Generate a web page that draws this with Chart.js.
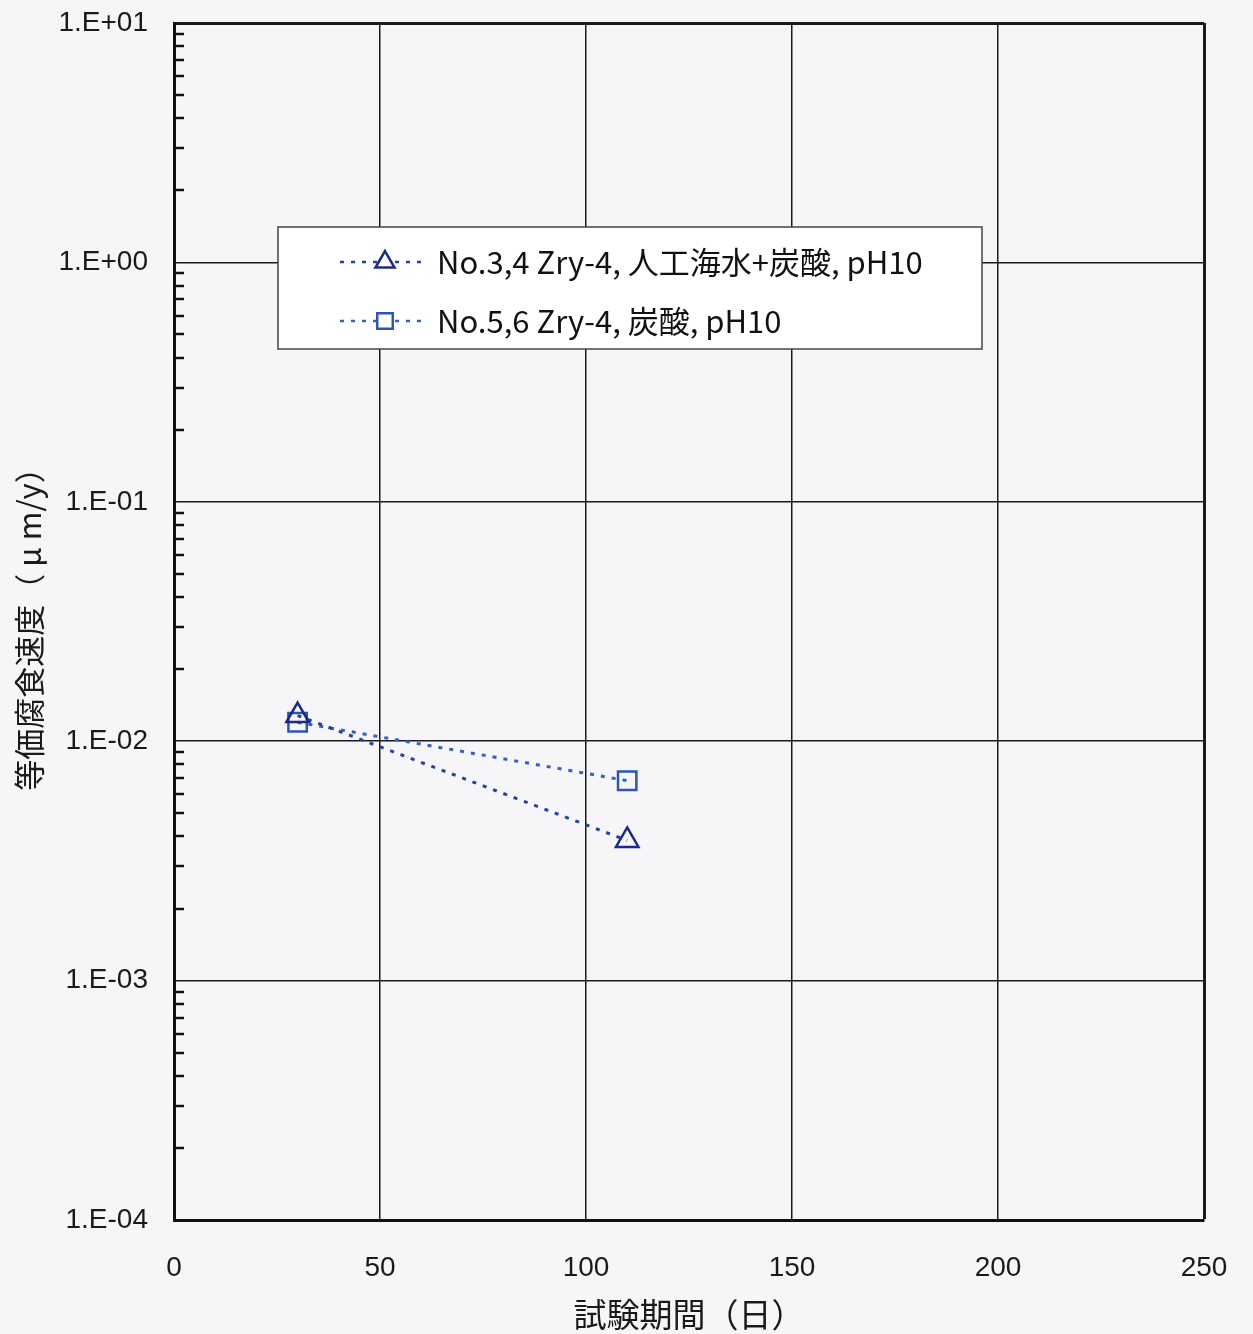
<!DOCTYPE html>
<html>
<head>
<meta charset="utf-8">
<script src="https://cdn.jsdelivr.net/npm/chart.js@4.4.1/dist/chart.umd.min.js"></script>
<style>
  html, body { margin: 0; padding: 0; background: #f6f6f8; }
  #wrap { width: 1253px; height: 1334px; position: relative; }
</style>
</head>
<body>
<div id="wrap"><canvas id="c" width="1253" height="1334"></canvas></div>
<script>
// Test duration (days) and equivalent corrosion rate (µm/y) for each test group
const days = [30, 110];
const rateSeawater = [0.0128, 0.00385];   // No.3,4: artificial seawater + carbonate
const rateCarbonate = [0.0120, 0.00684];  // No.5,6: carbonate only
const seriesLabels = ['No.3,4 Zry-4, 人工海水+炭酸, pH10', 'No.5,6 Zry-4, 炭酸, pH10'];

const xTickValues = [0, 50, 100, 150, 200, 250];
const yDecades = [1e-4, 1e-3, 1e-2, 1e-1, 1, 10];
const yTickLabels = ['1.E-04', '1.E-03', '1.E-02', '1.E-01', '1.E+00', '1.E+01'];
const xTitle = '試験期間（日）';
const yTitle = '等価腐食速度（ μ m/y）';

// decade ticks plus the 2..9 minor marks inside each decade
const yTickValues = [];
yDecades.forEach((d, i) => {
  yTickValues.push(d);
  if (i < yDecades.length - 1) for (let k = 2; k <= 9; k++) yTickValues.push(+(k * d).toPrecision(3));
});
const isDecade = v => yDecades.some(d => Math.abs(v - d) / d < 1e-6);

const numFont = { family: '"Liberation Sans", Arial, sans-serif', size: 28 };
const jpFamily = '"Noto Sans CJK JP", "Noto Sans", sans-serif';

// short inward tick marks on the left axis for minor values
const minorTicks = {
  id: 'minorTicks',
  afterDraw(chart) {
    const { ctx } = chart;
    const y = chart.scales.y;
    const left = chart.chartArea.left;
    ctx.save();
    ctx.strokeStyle = '#111';
    ctx.lineWidth = 2.5;
    y.ticks.forEach(t => {
      if (isDecade(t.value)) return;
      const py = Math.round(y.getPixelForValue(t.value));
      ctx.beginPath();
      ctx.moveTo(left, py);
      ctx.lineTo(left + 10, py);
      ctx.stroke();
    });
    ctx.restore();
  }
};

// boxed legend placed inside the plot area
const legendBox = {
  id: 'legendBox',
  afterDatasetsDraw(chart) {
    const { ctx, chartArea: a } = chart;
    const bx = a.left + 104, by = a.top + 204, bw = 704, bh = 122;
    ctx.save();
    ctx.fillStyle = '#ffffff';
    ctx.fillRect(bx, by, bw, bh);
    ctx.strokeStyle = '#444';
    ctx.lineWidth = 1.5;
    ctx.strokeRect(bx, by, bw, bh);
    chart.data.datasets.forEach((ds, i) => {
      const y = by + 35 + i * 59;
      ctx.setLineDash(ds.borderDash);
      ctx.strokeStyle = ds.borderColor;
      ctx.lineWidth = 2.5;
      ctx.beginPath();
      ctx.moveTo(bx + 62, y);
      ctx.lineTo(bx + 150, y);
      ctx.stroke();
      ctx.setLineDash([]);
      ctx.fillStyle = '#ffffff';
      ctx.strokeStyle = ds.pointBorderColor;
      ctx.lineWidth = ds.pointBorderWidth;
      Chart.helpers.drawPoint(ctx, { pointStyle: ds.pointStyle, radius: 11, borderWidth: ds.pointBorderWidth, rotation: 0 }, bx + 107, y);
      ctx.fillStyle = '#111';
      ctx.font = '31px ' + jpFamily;
      ctx.textBaseline = 'middle';
      ctx.textAlign = 'left';
      ctx.fillText(ds.label, bx + 159, y);
    });
    ctx.restore();
  }
};

new Chart(document.getElementById('c'), {
  type: 'line',
  data: {
    datasets: [
      {
        label: seriesLabels[0],
        data: days.map((d, i) => ({ x: d, y: rateSeawater[i] })),
        borderColor: '#2343a3', borderDash: [4, 7], borderWidth: 3,
        pointStyle: 'triangle', pointRadius: 13, pointBorderWidth: 2.5,
        pointBorderColor: '#1b2a88', pointBackgroundColor: 'rgba(0,0,0,0)',
        fill: false, tension: 0
      },
      {
        label: seriesLabels[1],
        data: days.map((d, i) => ({ x: d, y: rateCarbonate[i] })),
        borderColor: '#3460c2', borderDash: [4, 7], borderWidth: 3,
        pointStyle: 'rect', pointRadius: 13, pointBorderWidth: 2.5,
        pointBorderColor: '#2b55b8', pointBackgroundColor: 'rgba(0,0,0,0)',
        fill: false, tension: 0
      }
    ]
  },
  options: {
    responsive: false,
    animation: false,
    devicePixelRatio: 1,
    layout: { padding: { top: 23, right: 49, left: 0, bottom: 0 } },
    plugins: { legend: { display: false }, tooltip: { enabled: false } },
    scales: {
      x: {
        type: 'linear', min: 0, max: 250,
        afterBuildTicks: s => { s.ticks = xTickValues.map(v => ({ value: v })); },
        afterFit: s => { s.height = 114; s.paddingLeft = 0; s.paddingRight = 0; },
        ticks: { font: numFont, color: '#1a1a1a', padding: 31, maxRotation: 0, autoSkip: false },
        grid: {
          drawTicks: false,
          color: '#1a1a1a',
          lineWidth: c => (c.tick && c.tick.value === 250 ? 3 : 1.5)
        },
        border: { display: true, color: '#111', width: 3 },
        title: {
          display: true, text: xTitle, color: '#1a1a1a',
          font: { family: jpFamily, size: 33 }, padding: { top: 0, bottom: 0 }
        }
      },
      y: {
        type: 'logarithmic', min: 1e-4, max: 10,
        afterBuildTicks: s => { s.ticks = yTickValues.map(v => ({ value: v, major: isDecade(v) })); },
        afterFit: s => { s.width = 174; s.paddingTop = 0; s.paddingBottom = 0; },
        ticks: {
          font: numFont, color: '#1a1a1a', padding: 26, autoSkip: false,
          callback: v => {
            const i = yDecades.findIndex(d => Math.abs(v - d) / d < 1e-6);
            return i >= 0 ? yTickLabels[i] : '';
          }
        },
        grid: {
          drawTicks: false,
          color: c => (c.tick && isDecade(c.tick.value) ? '#1a1a1a' : 'rgba(0,0,0,0)'),
          lineWidth: c => (c.tick && Math.abs(c.tick.value - 10) < 1e-6 ? 3 : 1.5)
        },
        border: { display: true, color: '#111', width: 3 },
        title: {
          display: true, text: yTitle, color: '#1a1a1a',
          font: { family: jpFamily, size: 31 }, padding: { top: 11, bottom: 0 }
        }
      }
    }
  },
  plugins: [minorTicks, legendBox]
});
</script>
</body>
</html>
